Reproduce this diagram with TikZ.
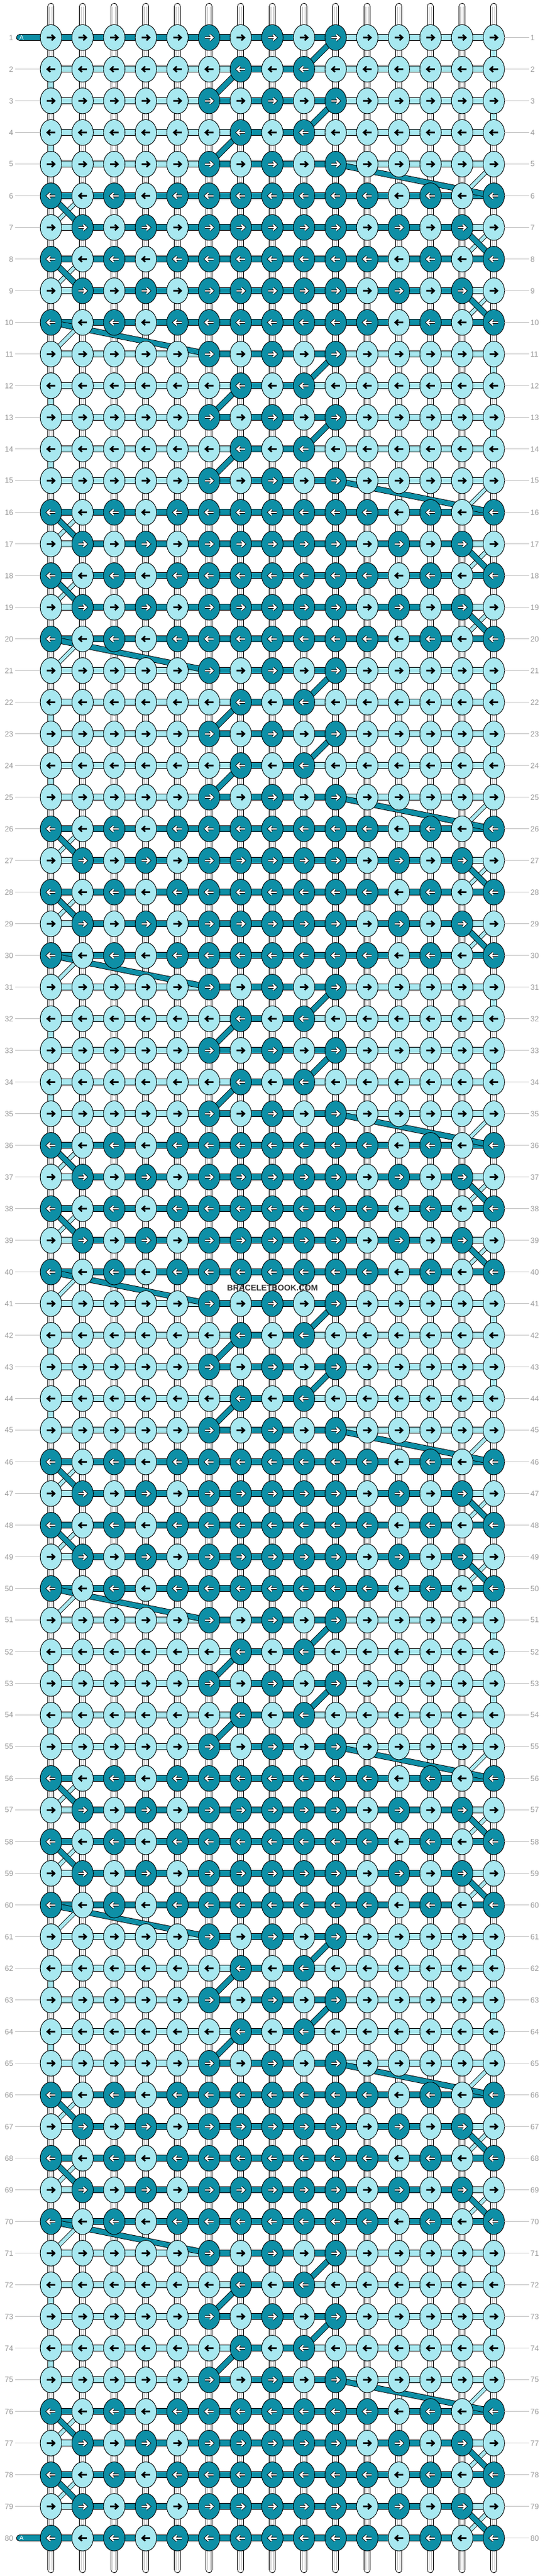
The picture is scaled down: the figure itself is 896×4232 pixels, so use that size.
\documentclass[tikz,border=0pt]{standalone}
\usepackage{fontspec}
\setmainfont{Liberation Sans}
\usetikzlibrary{shapes.geometric}
\definecolor{dk}{HTML}{0E8FA6}
\definecolor{lt}{HTML}{A8E8F0}
\definecolor{numgray}{HTML}{9A9A9A}
\definecolor{rulegray}{HTML}{C0C0C0}
\definecolor{tubegray}{HTML}{BBBBBB}
\definecolor{wmgray}{HTML}{363636}
\pgfdeclarelayer{bg}
\pgfsetlayers{bg,main}
% knot colours per row type (1 = dark)
\def\KnA{{0,0,0,0,0,1,0,1,0,1,0,0,0,0,0}}
\def\KnB{{0,0,0,0,0,0,1,0,1,0,0,0,0,0,0}}
\def\KnC{{1,0,1,0,1,1,1,1,1,1,1,0,1,0,1}}
\def\KnD{{0,1,0,1,0,1,1,1,1,1,0,1,0,1,0}}
% horizontal connector colours per row type (1 = dark)
\def\HzS{{1,1,1,1,1,1,1,1,1,0,0,0,0,0}}
\def\HzA{{0,0,0,0,0,1,1,1,1,0,0,0,0,0}}
\def\HzB{{0,0,0,0,0,0,1,1,0,0,0,0,0,0}}
\def\HzC{{1,1,1,1,1,1,1,1,1,1,1,1,1,1}}
\def\HzD{{0,1,1,1,1,1,1,1,1,1,1,1,1,0}}
\tikzset{
  knot/.style={ellipse, draw=black, line width=0.9pt, fill=#1, minimum width=35.2pt, minimum height=42.4pt, inner sep=0pt, outer sep=0pt},
  band/.style={draw=black, line width=0.9pt, double=#1, double distance=9.2pt},
  tube/.style={draw=black, line width=0.9pt, double=white, double distance=9.2pt},
  tubein/.style={draw=tubegray, line width=0.7pt, double=white, double distance=3.3pt},
  diagD/.style={draw=black, line width=0.9pt, double=dk, double distance=8pt},
  diagL/.style={draw=black, line width=0.8pt, double=lt, double distance=5.6pt},
  arrL/.style={draw=black, line width=2.6pt, line join=miter},
  arrD/.style={draw=black, line width=0.9pt, double=white, double distance=2.4pt, line join=miter},
  numlbl/.style={text=numgray, font=\fontsize{12.5}{14}\selectfont, inner sep=2.5pt},
  rowline/.style={draw=rulegray, line width=0.9pt},
}
\newcommand\mydiag[5]{\pgfmathtruncatemacro\ra{#1}\pgfmathtruncatemacro\rb{#3}\draw[#5] (k-\ra-#2.center) -- (k-\rb-#4.center);}
\begin{document}
\begin{tikzpicture}[x=1pt,y=-1pt]
\useasboundingbox (0,0) rectangle (896,4232);
\begin{pgfonlayer}{bg}
\fill[white] (0,0) rectangle (896,4232);
\end{pgfonlayer}
% knots
\foreach \ri in {1,...,80}{%
  \pgfmathtruncatemacro\kk{mod(\ri-1,10)+1}%
  \pgfmathsetmacro\yy{9.7+52*\ri}%
  \pgfmathtruncatemacro\dir{mod(\ri,2)==1 ? 1 : -1}%
  \ifcase\kk\or\let\kn\KnA\or\let\kn\KnB\or\let\kn\KnA\or\let\kn\KnB\or\let\kn\KnA\or\let\kn\KnC\or\let\kn\KnD\or\let\kn\KnC\or\let\kn\KnD\or\let\kn\KnC\fi
  \foreach \ci in {1,...,15}{%
    \pgfmathtruncatemacro\isd{\kn[\ci-1]}%
    \pgfmathsetmacro\xx{31.8+52*\ci}%
    \ifnum\isd=1
      \node[knot=dk] (k-\ri-\ci) at (\xx,\yy) {};
      \draw[arrD, shift={(\xx,\yy)}, xscale=\dir] (-7,0) -- (5.5,0) (1,-4.6) -- (6,0) -- (1,4.6);
    \else
      \node[knot=lt] (k-\ri-\ci) at (\xx,\yy) {};
      \draw[arrL, shift={(\xx,\yy)}, xscale=\dir] (-7,0) -- (5.5,0) (1,-4.6) -- (6,0) -- (1,4.6);
    \fi
  }%
}
\begin{pgfonlayer}{bg}
% tubes above and below
\foreach \ci in {1,...,15}{%
  \pgfmathsetmacro\xx{31.8+52*\ci}%
  \coordinate (top-\ci) at (\xx,10.5);
  \coordinate (bot-\ci) at (\xx,4221.5);
  \draw[tube, line cap=round] (top-\ci) -- (k-1-\ci.center);
  \draw[tubein] (top-\ci) -- (k-1-\ci.center);
  \draw[tube, line cap=round] (k-80-\ci.center) -- (bot-\ci);
  \draw[tubein] (k-80-\ci.center) -- (bot-\ci);
}
% vertical connectors
\foreach \ri in {1,...,79}{%
  \pgfmathtruncatemacro\rn{\ri+1}%
  \pgfmathtruncatemacro\kk{mod(\ri-1,10)+1}%
  \foreach \ci in {1,...,15}{%
    \pgfmathtruncatemacro\lf{((\kk==1||\kk==3)&&\ci==15)||((\kk==2||\kk==4)&&\ci==1)}%
    \ifnum\lf=1
      \draw[band=lt] (k-\ri-\ci.center) -- (k-\rn-\ci.center);
    \else
      \draw[tube] (k-\ri-\ci.center) -- (k-\rn-\ci.center);
      \draw[tubein] (k-\ri-\ci.center) -- (k-\rn-\ci.center);
    \fi
  }%
}
% horizontal connectors
\foreach \ri in {1,...,80}{%
  \pgfmathtruncatemacro\kk{mod(\ri-1,10)+1}%
  \ifcase\kk\or\let\hz\HzA\or\let\hz\HzB\or\let\hz\HzA\or\let\hz\HzB\or\let\hz\HzA\or\let\hz\HzC\or\let\hz\HzD\or\let\hz\HzC\or\let\hz\HzD\or\let\hz\HzC\fi
  \ifnum\ri=1 \let\hz\HzS\fi
  \foreach \ci in {1,...,14}{%
    \pgfmathtruncatemacro\cn{\ci+1}%
    \pgfmathtruncatemacro\isd{\hz[\ci-1]}%
    \ifnum\isd=1
      \draw[band=dk] (k-\ri-\ci.center) -- (k-\ri-\cn.center);
    \else
      \draw[band=lt] (k-\ri-\ci.center) -- (k-\ri-\cn.center);
    \fi
  }%
}
% string A ends
\coordinate (aend-1) at (32.2,61.7);
\coordinate (aend-80) at (32.2,4169.7);
\draw[band=dk, line cap=round] (aend-1) -- (k-1-1.center);
\draw[band=dk, line cap=round] (aend-80) -- (k-80-1.center);
% light diagonals
\foreach \pp in {0,...,7}{%
  \pgfmathtruncatemacro\base{10*\pp}%
  \mydiag{\base+5}{15}{\base+6}{14}{diagL}
  \mydiag{\base+6}{2}{\base+7}{1}{diagL}
  \mydiag{\base+7}{15}{\base+8}{14}{diagL}
  \mydiag{\base+8}{2}{\base+9}{1}{diagL}
  \mydiag{\base+9}{15}{\base+10}{14}{diagL}
  \ifnum\pp<7 \mydiag{\base+10}{2}{\base+11}{1}{diagL}\fi
}
% dark diagonals
\foreach \pp in {0,...,7}{%
  \pgfmathtruncatemacro\base{10*\pp}%
  \mydiag{\base+1}{10}{\base+2}{9}{diagD}
  \mydiag{\base+2}{7}{\base+3}{6}{diagD}
  \mydiag{\base+3}{10}{\base+4}{9}{diagD}
  \mydiag{\base+4}{7}{\base+5}{6}{diagD}
  \mydiag{\base+5}{10}{\base+6}{15}{diagD}
  \mydiag{\base+6}{1}{\base+7}{2}{diagD}
  \mydiag{\base+7}{14}{\base+8}{15}{diagD}
  \mydiag{\base+8}{1}{\base+9}{2}{diagD}
  \mydiag{\base+9}{14}{\base+10}{15}{diagD}
  \ifnum\pp<7 \mydiag{\base+10}{1}{\base+11}{6}{diagD}\fi
}
\end{pgfonlayer}
% A labels
\node[text=white, font=\fontsize{10.5}{12}\selectfont, inner sep=0pt] (alab-1) at (35.5,61.7) {A};
\node[text=white, font=\fontsize{10.5}{12}\selectfont, inner sep=0pt] (alab-80) at (35.5,4169.7) {A};
% row numbers
\foreach \ri in {1,...,80}{%
  \pgfmathsetmacro\yy{9.7+52*\ri}%
  \node[numlbl, anchor=east] (nl-\ri) at (24.5,\yy) {\ri};
  \node[numlbl, anchor=west] (nr-\ri) at (869.5,\yy) {\ri};
  \draw[rowline] (k-\ri-15.east) -- (nr-\ri.west);
  \ifnum\ri>1 \ifnum\ri<80 \draw[rowline] (nl-\ri.east) -- (k-\ri-1.west);\fi\fi
}
% watermark
\node[text=wmgray, font=\bfseries\fontsize{13.5}{15}\selectfont, inner sep=0pt] (wm) at (448,2116.2) {BRACELETBOOK.COM};
\end{tikzpicture}
\end{document}
